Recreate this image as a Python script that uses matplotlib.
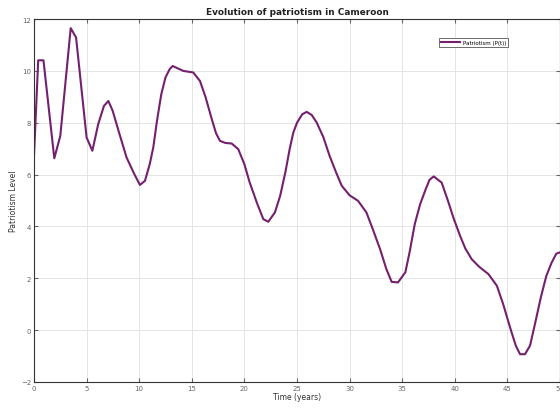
import matplotlib.pyplot as plt

# traced samples of the patriotism curve
years = [0.0, 0.4, 0.9, 1.93, 2.5, 3.49, 4.0, 5.0, 5.55, 6.1, 6.65, 7.07, 7.48,
         8.1, 8.8, 9.5, 10.07, 10.55, 11.0, 11.34, 11.7, 12.1, 12.5, 12.9, 13.18,
         14.2, 15.14, 15.78, 16.3, 16.9, 17.3, 17.68, 18.2, 18.79, 19.42, 20.0,
         20.5, 21.2, 21.8, 22.27, 22.9, 23.4, 23.9, 24.3, 24.65, 25.0, 25.5, 25.92,
         26.4, 26.87, 27.5, 28.1, 28.7, 29.25, 30.0, 30.8, 31.6, 32.2, 32.9, 33.5,
         34.0, 34.6, 35.3, 35.7, 36.2, 36.7, 37.2, 37.6, 38.0, 38.75, 39.3, 39.9,
         40.5, 41.0, 41.6, 42.3, 43.2, 44.0, 44.6, 45.0, 45.4, 45.8, 46.2, 46.67,
         47.15, 47.6, 48.2, 48.7, 49.2, 49.65, 50.0]
patriotism = [6.72, 10.41, 10.41, 6.63, 7.49, 11.65, 11.29, 7.43, 6.92, 7.94, 8.65,
              8.84, 8.46, 7.6, 6.66, 6.05, 5.60, 5.76, 6.4, 7.05, 8.1, 9.1, 9.75,
              10.07, 10.19, 10.0, 9.94, 9.61, 9.0, 8.14, 7.6, 7.30, 7.22, 7.20, 6.98,
              6.4, 5.70, 4.9, 4.28, 4.18, 4.54, 5.18, 6.1, 6.98, 7.62, 8.0, 8.33,
              8.42, 8.3, 8.01, 7.45, 6.72, 6.1, 5.57, 5.2, 4.99, 4.54, 3.9, 3.12,
              2.35, 1.86, 1.84, 2.23, 3.0, 4.1, 4.85, 5.4, 5.8, 5.93, 5.69, 5.05,
              4.3, 3.64, 3.15, 2.74, 2.45, 2.16, 1.71, 1.0, 0.45, -0.09, -0.6, -0.93,
              -0.93, -0.6, 0.2, 1.3, 2.09, 2.6, 2.95, 3.0]

x_ticks = [0, 5, 10, 15, 20, 25, 30, 35, 40, 45, 50]
y_ticks = [-2, 0, 2, 4, 6, 8, 10, 12]

fig = plt.figure(figsize=(5.6, 4.1), dpi=100)
ax = fig.add_axes([0.0607, 0.066, 0.9393, 0.885])

ax.plot(years, patriotism, color="#74206e", linewidth=1.5, label="Patriotism (P(t))",
        solid_joinstyle="round")

ax.set_xlim(0, 50)
ax.set_ylim(-2, 12)
ax.set_xticks(x_ticks)
ax.set_yticks(y_ticks)
ax.grid(True, color="#e4e4e4", linewidth=0.7)
ax.set_axisbelow(True)
ax.tick_params(direction="in", length=3, labelsize=5, colors="#666666",
               top=True, right=True, pad=2)
for s in ax.spines.values():
    s.set_color("#333333")
    s.set_linewidth(0.8)

ax.set_title("Evolution of patriotism in Cameroon", fontsize=6.4, fontweight="bold",
             pad=4, color="#222222")
ax.set_xlabel("Time (years)", fontsize=5.5, labelpad=1, color="#333333")
ax.set_ylabel("Patriotism Level", fontsize=5.5, labelpad=2, color="#333333")

leg = ax.legend(loc="upper left", bbox_to_anchor=(0.765, 0.955), fontsize=4,
                fancybox=False, edgecolor="#555555", handlelength=3.5,
                borderpad=0.3, handletextpad=0.5, framealpha=1)
leg.get_frame().set_linewidth(0.6)

plt.savefig("out.png", dpi=100)
